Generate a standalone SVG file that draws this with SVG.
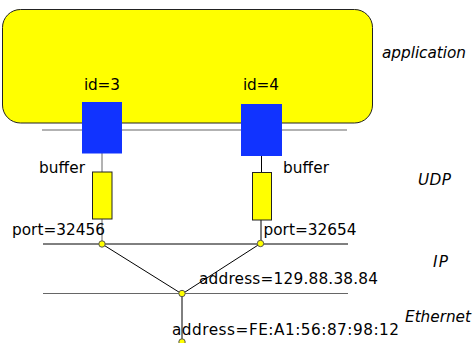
<svg xmlns="http://www.w3.org/2000/svg" width="473" height="343" viewBox="0 0 473 343">
<style>
text{font-family:"DejaVu Sans",Verdana,sans-serif;font-size:15.3px;fill:#000}
.lay{font-style:italic}
.ln{stroke:#000;stroke-width:1;fill:none}
.gl{stroke:#666;stroke-width:1;fill:none}
.sock{fill:#1133ff;stroke:none}
.buf{fill:#ffff00;stroke:#222;stroke-width:1}
.dot{fill:#ffff00;stroke:#555;stroke-width:1}
</style>
<rect width="473" height="343" fill="#fff"/>
<g id="application">
<rect x="2.5" y="9.5" width="370" height="113.5" rx="18" ry="18" fill="#ffff00" stroke="#222" stroke-width="1"/>
</g>
<g id="connectors">
<line class="gl" x1="42" y1="130" x2="347" y2="130"/>
<line class="gl" x1="102" y1="153" x2="102" y2="172"/>
<line class="ln" x1="261.5" y1="155" x2="261.5" y2="172"/>
<line class="gl" x1="102" y1="219" x2="102" y2="244"/>
<line class="ln" x1="261" y1="220" x2="261" y2="244"/>
<line class="ln" x1="43" y1="244" x2="348" y2="244"/>
<line class="gl" x1="43" y1="293.5" x2="348" y2="293.5"/>
<line class="ln" x1="102" y1="244" x2="182" y2="294"/>
<line class="ln" x1="260.5" y1="243.5" x2="182" y2="294"/>
<line class="ln" x1="182" y1="294" x2="182" y2="342"/>
</g>
<g id="socket3">
<rect class="sock" x="82" y="102" width="40" height="51.5"/>
<text x="84" y="90" textLength="36">id=3</text>
</g>
<g id="socket4">
<rect class="sock" x="241" y="104" width="41" height="52"/>
<text x="243" y="90" textLength="36">id=4</text>
</g>
<g id="buffer1">
<rect class="buf" x="92.5" y="172" width="19.5" height="47"/>
<text x="39" y="173" textLength="46">buffer</text>
</g>
<g id="buffer2">
<rect class="buf" x="252.5" y="172.5" width="19" height="47.5"/>
<text x="283" y="173" textLength="46">buffer</text>
</g>
<g id="port1">
<circle class="dot" cx="102" cy="244" r="3.2"/>
<text x="12" y="235" textLength="93">port=32456</text>
</g>
<g id="port2">
<circle class="dot" cx="260.5" cy="243.5" r="3.2"/>
<text x="263.5" y="235" textLength="93">port=32654</text>
</g>
<g id="ip">
<circle class="dot" cx="182" cy="293.5" r="3.2"/>
<text x="199" y="284" textLength="179">address=129.88.38.84</text>
</g>
<g id="eth">
<circle class="dot" cx="182" cy="342" r="3.2"/>
<text x="172" y="335" textLength="227">address=FE:A1:56:87:98:12</text>
</g>
<g id="labels">
<text class="lay" x="382" y="58" textLength="84">application</text>
<text class="lay" x="418" y="185" textLength="33">UDP</text>
<text class="lay" x="433" y="267" textLength="15">IP</text>
<text class="lay" x="405" y="322" textLength="66">Ethernet</text>
</g>
</svg>
